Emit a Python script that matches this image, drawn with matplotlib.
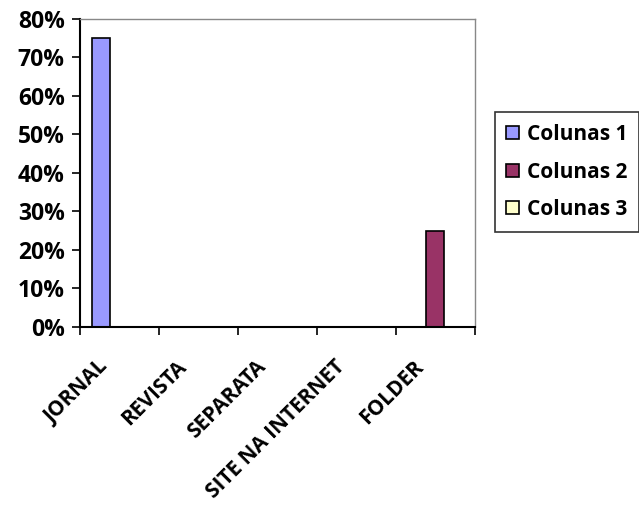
import numpy as np
import matplotlib.pyplot as plt
from matplotlib.ticker import PercentFormatter

categories = ['JORNAL', 'REVISTA', 'SEPARATA', 'SITE NA INTERNET', 'FOLDER']
series_names = ['Colunas 1', 'Colunas 2', 'Colunas 3']
colunas1 = [0.75, 0, 0, 0, 0]
colunas2 = [0, 0, 0, 0, 0.25]
colunas3 = [0, 0, 0, 0, 0]
colors = ['#9999FF', '#993366', '#FFFFCC']

plt.rcParams['font.family'] = ['Open Sans', 'DejaVu Sans']

fig = plt.figure(figsize=(6.39, 5.05), dpi=100)
ax = fig.add_axes([0.1252, 0.3525, 0.618, 0.61])

x = np.arange(len(categories))
w = 0.23
for i, (vals, name) in enumerate(zip([colunas1, colunas2, colunas3], series_names)):
    ax.bar(x + (i - 1) * w, vals, w, color=colors[i], edgecolor='black', linewidth=1.2, label=name)

ax.set_xlim(-0.5, len(categories) - 0.5)
ax.set_ylim(0, 0.8)
ax.set_yticks(np.arange(0, 0.81, 0.1))
ax.yaxis.set_major_formatter(PercentFormatter(1.0, decimals=0))
ax.set_xticks(np.arange(-0.5, len(categories), 1))
ax.set_xticklabels([])
# labels sit a bit left of the category centre, like the original
ax.set_xticks(x - 0.28, minor=True)
ax.set_xticklabels(categories, minor=True, rotation=45, ha='right', rotation_mode='anchor',
                   fontsize=15, fontweight='bold')
ax.tick_params(axis='x', which='minor', length=0, pad=21)
ax.tick_params(axis='x', which='major', length=6, width=1.2, direction='out')
ax.tick_params(axis='y', length=6, width=1.2, direction='out', labelsize=16.5, pad=5)
for lab in ax.get_yticklabels():
    lab.set_fontweight('bold')

for s in ['left', 'bottom']:
    ax.spines[s].set_linewidth(1.5)
    ax.spines[s].set_color('black')
for s in ['top', 'right']:
    ax.spines[s].set_color('#888888')
    ax.spines[s].set_linewidth(1)

leg = ax.legend(loc='center left', bbox_to_anchor=(1.05, 0.503),
                frameon=True, fancybox=False, edgecolor='black',
                handlelength=0.6, handleheight=0.6, handletextpad=0.4, labelspacing=0.8,
                borderpad=0.55, borderaxespad=0, prop={'weight': 'bold', 'size': 15})
leg.get_frame().set_linewidth(1.2)

fig.savefig('out.png', dpi=100)
